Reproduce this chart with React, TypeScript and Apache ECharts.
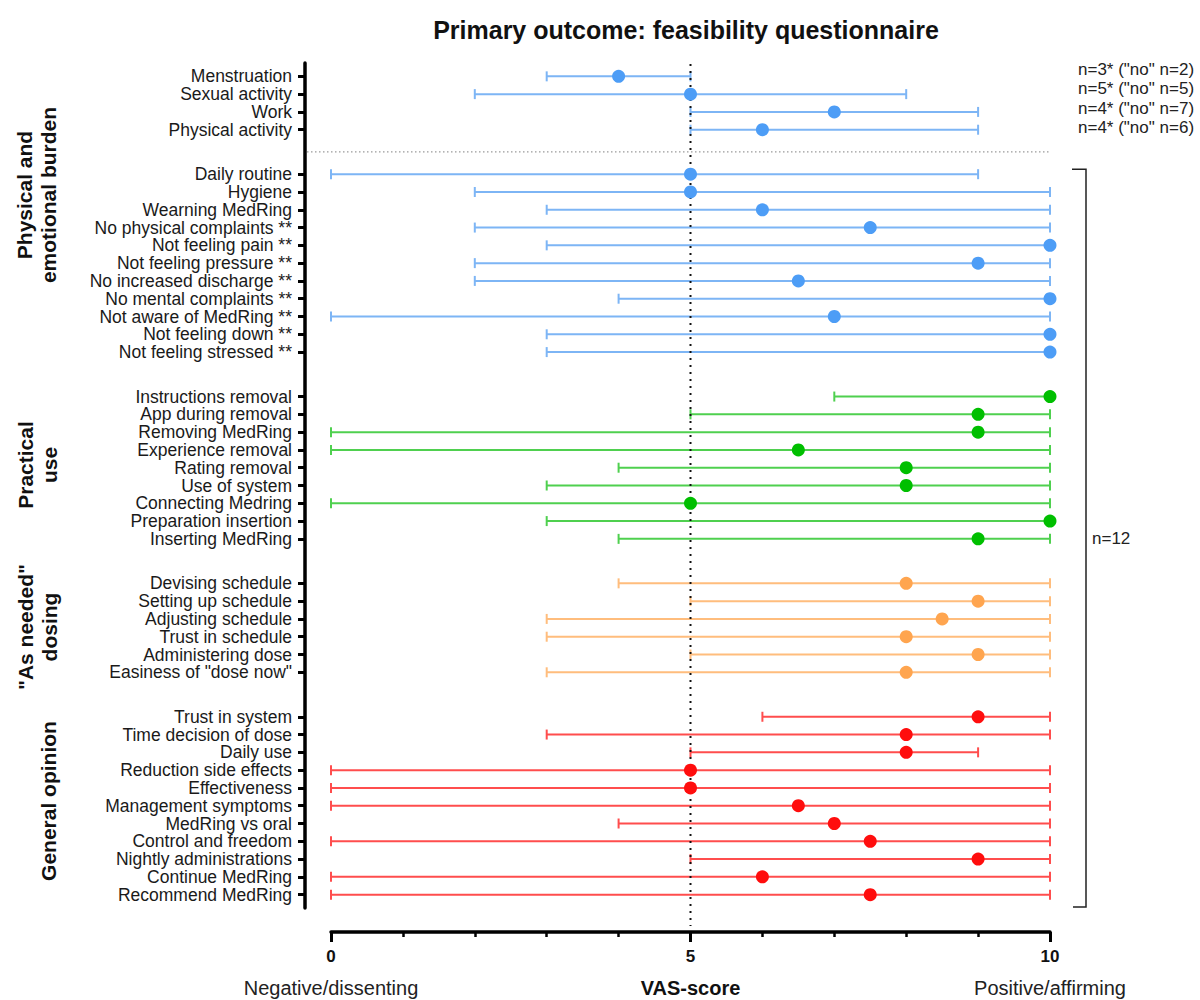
import React, { useEffect, useRef } from 'react';
import * as echarts from 'echarts';

// ---------- data ----------
const burdenOptLabels = ['Menstruation', 'Sexual activity', 'Work', 'Physical activity'];
const burdenOptLow = [3, 2, 5, 5];
const burdenOptMedian = [4, 5, 7, 6];
const burdenOptHigh = [5, 8, 9, 9];
const burdenOptNotes = ['n=3* ("no" n=2)', 'n=5* ("no" n=5)', 'n=4* ("no" n=7)', 'n=4* ("no" n=6)'];

const burdenLabels = ['Daily routine', 'Hygiene', 'Wearning MedRing', 'No physical complaints **', 'Not feeling pain **', 'Not feeling pressure **', 'No increased discharge **', 'No mental complaints **', 'Not aware of MedRing **', 'Not feeling down **', 'Not feeling stressed **'];
const burdenLow = [0, 2, 3, 2, 3, 2, 2, 4, 0, 3, 3];
const burdenMedian = [5, 5, 6, 7.5, 10, 9, 6.5, 10, 7, 10, 10];
const burdenHigh = [9, 10, 10, 10, 10, 10, 10, 10, 10, 10, 10];

const practicalLabels = ['Instructions removal', 'App during removal', 'Removing MedRing', 'Experience removal', 'Rating removal', 'Use of system', 'Connecting Medring', 'Preparation insertion', 'Inserting MedRing'];
const practicalLow = [7, 5, 0, 0, 4, 3, 0, 3, 4];
const practicalMedian = [10, 9, 9, 6.5, 8, 8, 5, 10, 9];
const practicalHigh = [10, 10, 10, 10, 10, 10, 10, 10, 10];

const dosingLabels = ['Devising schedule', 'Setting up schedule', 'Adjusting schedule', 'Trust in schedule', 'Administering dose', 'Easiness of "dose now"'];
const dosingLow = [4, 5, 3, 3, 5, 3];
const dosingMedian = [8, 9, 8.5, 8, 9, 8];
const dosingHigh = [10, 10, 10, 10, 10, 10];

const opinionLabels = ['Trust in system', 'Time decision of dose', 'Daily use', 'Reduction side effects', 'Effectiveness', 'Management symptoms', 'MedRing vs oral', 'Control and freedom', 'Nightly administrations', 'Continue MedRing', 'Recommend MedRing'];
const opinionLow = [6, 3, 5, 0, 0, 0, 4, 0, 5, 0, 0];
const opinionMedian = [9, 8, 8, 5, 5, 6.5, 7, 7.5, 9, 6, 7.5];
const opinionHigh = [10, 10, 9, 10, 10, 10, 10, 10, 10, 10, 10];

const groupTitles = ['Physical and\nemotional burden', 'Practical\nuse', '"As needed"\ndosing', 'General opinion'];
const xTicks = [0, 5, 10];
const xTickCaptions = ['Negative/dissenting', 'VAS-score', 'Positive/affirming'];
const bracketNote = 'n=12';

// ---------- styling / layout ----------
const FONT = '"Liberation Sans", Arial, Helvetica, sans-serif';
const BLUE = '#4d9df6', BLUE_L = '#7db5f5';
const GREEN = '#00bf00', GREEN_L = '#4fd04f';
const ORANGE = '#ffa54f', ORANGE_L = '#ffbd7d';
const RED = '#ff0d0d', RED_L = '#ff4d4d';
const GAP_ROWS = 2.5;

type Block = { labels: string[]; low: number[]; med: number[]; high: number[]; dot: string; line: string };
const blocks: Block[] = [
  { labels: burdenOptLabels, low: burdenOptLow, med: burdenOptMedian, high: burdenOptHigh, dot: BLUE, line: BLUE_L },
  { labels: burdenLabels, low: burdenLow, med: burdenMedian, high: burdenHigh, dot: BLUE, line: BLUE_L },
  { labels: practicalLabels, low: practicalLow, med: practicalMedian, high: practicalHigh, dot: GREEN, line: GREEN_L },
  { labels: dosingLabels, low: dosingLow, med: dosingMedian, high: dosingHigh, dot: ORANGE, line: ORANGE_L },
  { labels: opinionLabels, low: opinionLow, med: opinionMedian, high: opinionHigh, dot: RED, line: RED_L },
];

// half-row category indices, one padding category at each end
const labelAt: Record<number, string> = {};
const blockIdx: number[][] = [];
let lastPos = -GAP_ROWS;
blocks.forEach((b) => {
  const start = lastPos + GAP_ROWS;
  const idx = b.labels.map((_, i) => 1 + 2 * (start + i));
  idx.forEach((k, i) => (labelAt[k] = b.labels[i]));
  blockIdx.push(idx);
  lastPos = start + b.labels.length - 1;
});
const N = 2 * lastPos + 3;
const categories = Array.from({ length: N }, (_, i) => String(i));

function errorBarSeries(b: Block, idx: number[]) {
  return {
    type: 'custom',
    z: 2,
    silent: true,
    encode: { x: [0, 1], y: 2 },
    data: b.low.map((l, i) => [l, b.high[i], idx[i]]),
    renderItem: (params: any, api: any) => {
      const y = api.value(2);
      const p1 = api.coord([api.value(0), y]);
      const p2 = api.coord([api.value(1), y]);
      const h = 5;
      const style = { stroke: b.line, lineWidth: 2, fill: 'none' };
      return {
        type: 'group',
        children: [
          { type: 'line', shape: { x1: p1[0], y1: p1[1], x2: p2[0], y2: p2[1] }, style },
          { type: 'line', shape: { x1: p1[0], y1: p1[1] - h, x2: p1[0], y2: p1[1] + h }, style },
          { type: 'line', shape: { x1: p2[0], y1: p2[1] - h, x2: p2[0], y2: p2[1] + h }, style },
        ],
      };
    },
  };
}

function dotSeries(b: Block, idx: number[]) {
  return {
    type: 'scatter',
    z: 4,
    symbol: 'circle',
    symbolSize: 13,
    itemStyle: { color: b.dot, opacity: 1 },
    data: b.med.map((m, i) => [m, idx[i]]),
  };
}

const decoSeries = {
  type: 'custom',
  z: 3,
  silent: true,
  encode: { x: 0, y: 1 },
  data: [[5, 0]],
  renderItem: (params: any, api: any) => {
    const cs = params.coordSys;
    const x5 = api.coord([xTicks[1], 0])[0];
    const xEnd = api.coord([xTicks[2], 0])[0];
    const lastA = blockIdx[0][blockIdx[0].length - 1];
    const firstB = blockIdx[1][0];
    const ySep = (api.coord([0, lastA])[1] + api.coord([0, firstB])[1]) / 2;
    const yTop = api.coord([0, firstB])[1] - 5;
    const yBot = cs.y + cs.height - 1;
    const bx = xEnd + 36;
    const yNote0 = api.coord([0, blockIdx[0][0]])[1] - 7;
    return {
      type: 'group',
      children: [
        { type: 'line', shape: { x1: cs.x - 24, y1: ySep, x2: xEnd, y2: ySep }, style: { stroke: '#9a9a9a', lineWidth: 1.2, lineDash: [1.5, 2.5] } },
        { type: 'line', shape: { x1: x5, y1: cs.y + 1, x2: x5, y2: cs.y + cs.height + 18 }, style: { stroke: '#111', lineWidth: 2, lineDash: [2, 5] } },
        { type: 'polyline', shape: { points: [[bx - 14, yTop], [bx, yTop], [bx, yBot], [bx - 13, yBot]] }, style: { stroke: '#222', lineWidth: 1.5, fill: 'none' } },
        { type: 'text', style: { text: bracketNote, x: bx + 6, y: (yTop + yBot) / 2, textAlign: 'left', textVerticalAlign: 'middle', font: `17px ${FONT}`, fill: '#222' } },
        ...burdenOptNotes.map((t, i) => ({
          type: 'text',
          style: { text: t, x: cs.x + cs.width + 28, y: yNote0 + i * 19.5, textAlign: 'left', textVerticalAlign: 'middle', font: `17px ${FONT}`, fill: '#222' },
        })),
      ],
    };
  },
};

const groupTitleX = [36, 37, 37, 48];
const groupTitleY = [195, 465, 627, 801];

const showLabel = (i: number) => labelAt[i] !== undefined || i === 0 || i === N - 1;

const option: any = {
  animation: false,
  backgroundColor: '#fff',
  title: {
    text: 'Primary outcome: feasibility questionnaire',
    left: 681,
    textAlign: 'center',
    top: 12,
    textStyle: { fontFamily: FONT, fontSize: 25, fontWeight: 'bold', color: '#111' },
  },
  grid: { left: 331, right: 150, top: 63, bottom: 92, containLabel: false },
  xAxis: {
    type: 'value',
    min: 0,
    max: 10,
    interval: 5,
    offset: 24,
    axisLine: { show: true, onZero: false, lineStyle: { color: '#000', width: 3.5 } },
    axisTick: { show: true, length: 10, lineStyle: { color: '#000', width: 3 } },
    minorTick: { show: true, splitNumber: 5, length: 5, lineStyle: { color: '#000', width: 2.5 } },
    splitLine: { show: false },
    minorSplitLine: { show: false },
    axisLabel: {
      margin: 12,
      showMinLabel: true,
      showMaxLabel: true,
      formatter: (v: number) => {
        const i = xTicks.indexOf(v);
        if (i < 0) return '';
        return `{v|${v}}\n{${i === 1 ? 'b' : 's'}|${xTickCaptions[i]}}`;
      },
      rich: {
        v: { fontFamily: FONT, fontSize: 17, fontWeight: 'bold', color: '#111', lineHeight: 24 },
        s: { fontFamily: FONT, fontSize: 20, color: '#222', lineHeight: 40 },
        b: { fontFamily: FONT, fontSize: 20, fontWeight: 'bold', color: '#111', lineHeight: 40 },
      },
    },
  },
  yAxis: {
    type: 'category',
    inverse: true,
    data: categories,
    offset: 26,
    axisLine: { show: true, onZero: false, lineStyle: { color: '#000', width: 3.5 } },
    axisTick: {
      show: true,
      alignWithLabel: true,
      length: 7,
      interval: (i: number) => labelAt[i] !== undefined,
      lineStyle: { color: '#000', width: 3 },
    },
    axisLabel: {
      interval: (i: number) => showLabel(i),
      showMinLabel: false,
      showMaxLabel: false,
      margin: 13,
      fontFamily: FONT,
      fontSize: 17.5,
      lineHeight: 17.5,
      color: '#1a1a1a',
      formatter: (v: string) => labelAt[Number(v)] ?? '',
    },
    splitLine: { show: false },
  },
  graphic: groupTitles.map((t, i) => ({
    type: 'text',
    x: groupTitleX[i],
    y: groupTitleY[i],
    rotation: Math.PI / 2,
    style: {
      text: t,
      fontFamily: FONT,
      fontSize: 21,
      fontWeight: 'bold',
      lineHeight: 24,
      fill: '#111',
      textAlign: 'center',
      textVerticalAlign: 'middle',
    },
  })),
  series: [
    ...blocks.map((b, i) => errorBarSeries(b, blockIdx[i])),
    decoSeries,
    ...blocks.map((b, i) => dotSeries(b, blockIdx[i])),
  ],
};

export default function App() {
  const ref = useRef<HTMLDivElement>(null);
  useEffect(() => {
    const chart = echarts.init(ref.current!, null, { renderer: 'svg' });
    chart.setOption(option);
    return () => chart.dispose();
  }, []);
  return (
    <div
      ref={ref}
      style={{ position: 'fixed', left: 0, top: 0, width: 1200, height: 1000, background: '#fff' }}
    />
  );
}
